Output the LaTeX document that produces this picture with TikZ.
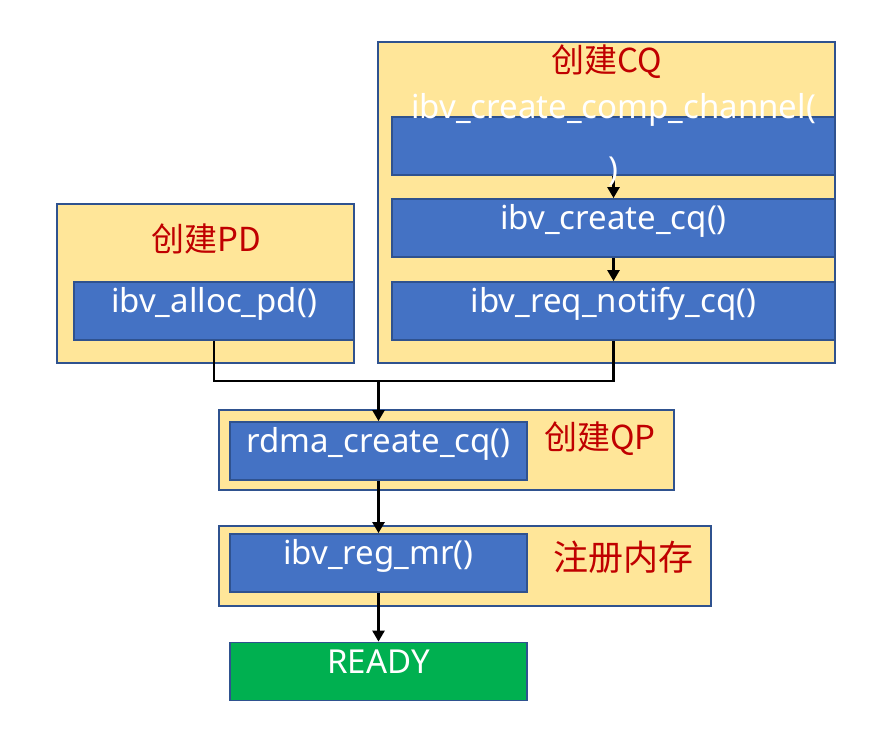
\documentclass[tikz,border=0pt]{standalone}
\usepackage{fontspec}
\setmainfont{Noto Sans}
\newfontfamily\cjk{Noto Sans CJK SC}
\usepackage{tikz}
\usetikzlibrary{arrows.meta}
\definecolor{stagefill}{HTML}{FFE699}
\definecolor{stageline}{HTML}{2F528F}
\definecolor{callfill}{HTML}{4472C4}
\definecolor{readyfill}{HTML}{00B050}
\definecolor{titlered}{HTML}{C00000}
\tikzstyle{stage}=[draw=stageline, line width=1.8pt, fill=stagefill, inner sep=0pt]
\tikzstyle{call}=[draw=stageline, line width=1.8pt, fill=callfill, text=white, inner sep=0pt, minimum height=58pt, text height=30.5pt, text depth=27.5pt, font=\fontsize{33}{40}\selectfont]
\tikzstyle{stagetitle}=[text=titlered, inner sep=0pt, font=\cjk\fontsize{33}{38}\selectfont]
\tikzstyle{link}=[line width=2.5pt]
\tikzstyle{flow}=[line width=2.5pt, -{Triangle[width=12pt,length=11pt]}]

\begin{document}
\begin{tikzpicture}[x=1pt, y=-1pt]
	\useasboundingbox (0,0) rectangle (886,742);
%
	\node[stage, minimum width=457pt, minimum height=321pt] (cqstage) at (606.5,202.5) {};
	\node[stage, minimum width=297pt, minimum height=159pt] (pdstage) at (205.5,283.5) {};
	\node[stage, minimum width=455pt, minimum height=80pt] (qpstage) at (446.5,450) {};
	\node[stage, minimum width=492pt, minimum height=80pt] (mrstage) at (465,566) {};
%
	\node[stagetitle] (cqtitle) at (607,62) {创建CQ};
	\node[stagetitle] (pdtitle) at (206,239) {创建PD};
	\node[stagetitle] (qptitle) at (600,439) {创建QP};
	\node[stagetitle, font=\cjk\fontsize{35}{40}\selectfont] (mrtitle) at (623,557) {注册内存};
%
	\node[call, minimum width=443pt] (chan) at (613.5,146) {};
	\node[call, minimum width=443pt] (ccq) at (613.5,228) {ibv\_create\_cq()};
	\node[call, minimum width=443pt] (notify) at (613.5,311) {ibv\_req\_notify\_cq()};
	\node[call, minimum width=280pt] (alloc) at (214,311) {ibv\_alloc\_pd()};
	\node[call, minimum width=297pt] (rdma) at (378.5,451) {rdma\_create\_cq()};
	\node[call, minimum width=297pt] (regmr) at (378.5,563) {ibv\_reg\_mr()};
	\node[call, minimum width=297pt, minimum height=57pt, fill=readyfill] (ready) at (378.5,671.5) {READY};
%
	\coordinate (merge) at (378.5,381);
	\draw[flow] (chan) -- (ccq);
	\draw[flow] (ccq) -- (notify);
	\draw[link] (alloc.south) |- (merge) -| (notify.south);
	\draw[flow] (merge) -- (rdma.north);
	\draw[flow] (rdma) -- (regmr);
	\draw[flow] (regmr) -- (ready);
%
	\node[text=white, align=center, inner sep=0pt, font=\fontsize{33}{62}\selectfont] (chantext) at (613.5,140) {ibv\_create\_comp\_channel(\\)};
\end{tikzpicture}
\end{document}
